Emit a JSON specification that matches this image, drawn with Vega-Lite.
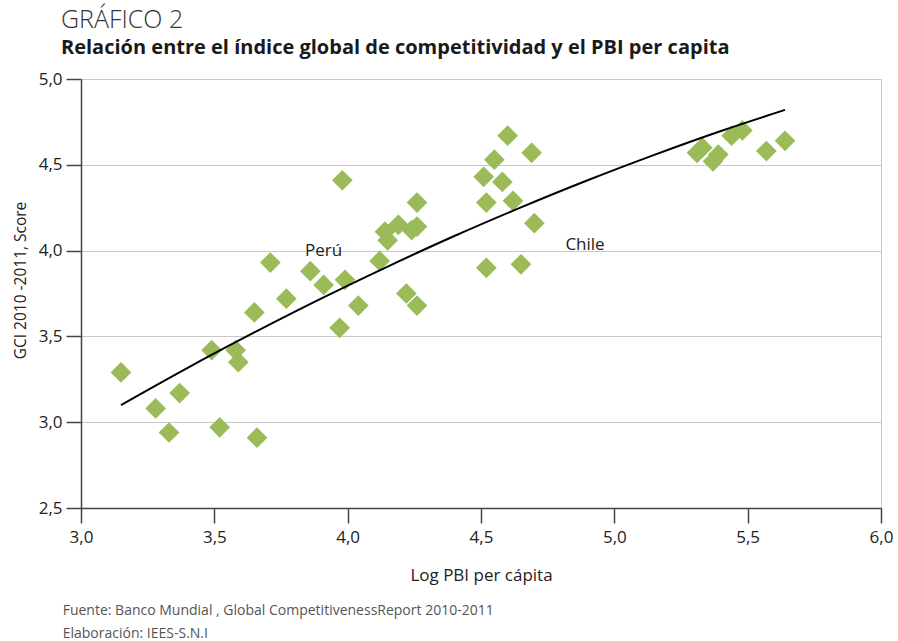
{
  "$schema": "https://vega.github.io/schema/vega-lite/v6.json",
  "background": "white",
  "padding": {"left": 12, "top": 7, "right": 10, "bottom": 2},
  "config": {
    "font": "Open Sans",
    "view": {"stroke": null},
    "concat": {"spacing": 0}
  },
  "title": {
    "text": ["Fuente: Banco Mundial , Global CompetitivenessReport 2010-2011", "Elaboración: IEES-S.N.I"],
    "orient": "bottom",
    "anchor": "start",
    "fontSize": 14,
    "fontWeight": "normal",
    "color": "#555555",
    "lineHeight": 23,
    "offset": 20,
    "dx": 50
  },
  "vconcat": [
    {
      "width": 800,
      "height": 429,
      "title": {
        "text": "GRÁFICO 2",
        "subtitle": "Relación entre el índice global de competitividad y el PBI per capita",
        "anchor": "start",
        "frame": "group",
        "dx": -20,
        "fontSize": 25,
        "fontWeight": 300,
        "color": "#333333",
        "subtitleFontSize": 20,
        "subtitleFontWeight": "bold",
        "subtitleColor": "#1a1a1a",
        "subtitlePadding": 5,
        "offset": 12
      },
      "view": {"stroke": "#c8c8c8", "strokeWidth": 1},
      "layer": [
        {
          "data": {"values": [
            {"x": 3.15, "y": 3.29}, {"x": 3.28, "y": 3.08}, {"x": 3.33, "y": 2.94}, {"x": 3.37, "y": 3.17},
            {"x": 3.49, "y": 3.42}, {"x": 3.52, "y": 2.97}, {"x": 3.58, "y": 3.42}, {"x": 3.59, "y": 3.35},
            {"x": 3.65, "y": 3.64}, {"x": 3.66, "y": 2.91}, {"x": 3.71, "y": 3.93}, {"x": 3.77, "y": 3.72},
            {"x": 3.86, "y": 3.88}, {"x": 3.91, "y": 3.80}, {"x": 3.97, "y": 3.55}, {"x": 3.99, "y": 3.83},
            {"x": 3.98, "y": 4.41}, {"x": 4.04, "y": 3.68}, {"x": 4.12, "y": 3.94}, {"x": 4.14, "y": 4.11},
            {"x": 4.15, "y": 4.06}, {"x": 4.19, "y": 4.15}, {"x": 4.22, "y": 3.75}, {"x": 4.24, "y": 4.12},
            {"x": 4.26, "y": 4.28}, {"x": 4.26, "y": 4.14}, {"x": 4.26, "y": 3.68}, {"x": 4.51, "y": 4.43},
            {"x": 4.52, "y": 4.28}, {"x": 4.52, "y": 3.90}, {"x": 4.55, "y": 4.53}, {"x": 4.58, "y": 4.40},
            {"x": 4.60, "y": 4.67}, {"x": 4.62, "y": 4.29}, {"x": 4.65, "y": 3.92}, {"x": 4.69, "y": 4.57},
            {"x": 4.70, "y": 4.16}, {"x": 5.31, "y": 4.57}, {"x": 5.33, "y": 4.60}, {"x": 5.37, "y": 4.52},
            {"x": 5.39, "y": 4.56}, {"x": 5.44, "y": 4.67}, {"x": 5.48, "y": 4.70}, {"x": 5.57, "y": 4.58},
            {"x": 5.64, "y": 4.64}
          ]},
          "mark": {"type": "point", "shape": "diamond", "filled": true, "size": 430, "color": "#9bbb59", "opacity": 1},
          "encoding": {
            "x": {
              "field": "x", "type": "quantitative",
              "scale": {"domain": [3, 6], "nice": false, "zero": false},
              "axis": {
                "title": "Log PBI per cápita",
                "values": [3, 3.5, 4, 4.5, 5, 5.5, 6],
                "labelExpr": "replace(format(datum.value, '.1f'), '.', ',')",
                "grid": false,
                "domainColor": "#444444",
                "domainWidth": 1.5,
                "tickColor": "#444444",
                "tickWidth": 1.5,
                "tickSize": 15,
                "labelFontSize": 17,
                "labelColor": "#222222",
                "labelPadding": 6,
                "labelFlush": false,
                "titleFontSize": 17,
                "titleFontWeight": "normal",
                "titleColor": "#222222",
                "titlePadding": 22
              }
            },
            "y": {
              "field": "y", "type": "quantitative",
              "scale": {"domain": [2.5, 5], "nice": false, "zero": false},
              "axis": {
                "title": "GCI 2010 -2011, Score",
                "titleY": 201,
                "values": [2.5, 3, 3.5, 4, 4.5, 5],
                "labelExpr": "replace(format(datum.value, '.1f'), '.', ',')",
                "grid": true,
                "gridColor": "#c8c8c8",
                "gridWidth": 1,
                "domainColor": "#444444",
                "domainWidth": 1.5,
                "tickColor": "#444444",
                "tickWidth": 1.5,
                "tickSize": 15,
                "labelFontSize": 17,
                "labelColor": "#222222",
                "labelPadding": 4,
                "labelFlush": false,
                "titleFontSize": 15.5,
                "titleFontWeight": "normal",
                "titleColor": "#222222",
                "titlePadding": 10
              }
            }
          }
        },
        {
          "data": {"values": [
            {"x": 3.15, "y": 3.10}, {"x": 3.40, "y": 3.317}, {"x": 3.65, "y": 3.523}, {"x": 3.90, "y": 3.720},
            {"x": 4.15, "y": 3.907}, {"x": 4.40, "y": 4.085}, {"x": 4.65, "y": 4.252}, {"x": 4.90, "y": 4.410},
            {"x": 5.15, "y": 4.558}, {"x": 5.40, "y": 4.697}, {"x": 5.64, "y": 4.820}
          ]},
          "mark": {"type": "line", "color": "#000000", "strokeWidth": 2, "interpolate": "monotone"},
          "encoding": {
            "x": {"field": "x", "type": "quantitative"},
            "y": {"field": "y", "type": "quantitative"}
          }
        },
        {
          "data": {"values": [
            {"x": 3.91, "y": 4.0, "label": "Perú"},
            {"x": 4.89, "y": 4.03, "label": "Chile"}
          ]},
          "mark": {"type": "text", "fontSize": 17, "color": "#222222"},
          "encoding": {
            "x": {"field": "x", "type": "quantitative"},
            "y": {"field": "y", "type": "quantitative"},
            "text": {"field": "label"}
          }
        }
      ]
    }
  ]
}
